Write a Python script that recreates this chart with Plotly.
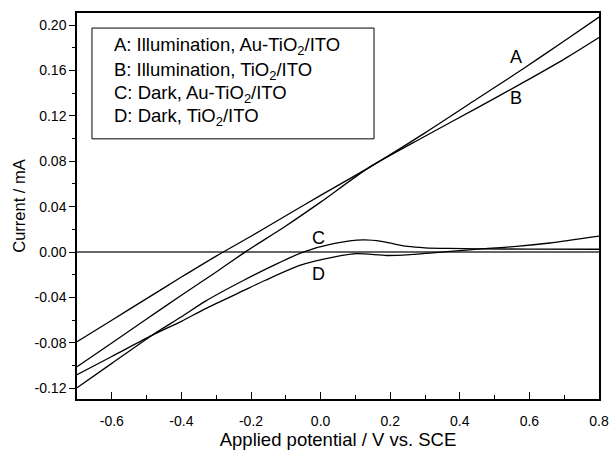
import plotly.graph_objects as go

# Curve A: Illumination, Au-TiO2/ITO
xa = [-0.70, -0.60, -0.50, -0.40, -0.30, -0.20, -0.10, 0.00, 0.14, 0.30, 0.45, 0.58, 0.70, 0.80]
ya = [-0.079, -0.060, -0.041, -0.022, -0.0035, 0.014, 0.032, 0.050, 0.0746, 0.105, 0.135, 0.161, 0.186, 0.207]
# Curve B: Illumination, TiO2/ITO
xb = [-0.70, -0.60, -0.50, -0.40, -0.30, -0.217, -0.10, 0.00, 0.14, 0.30, 0.45, 0.58, 0.70, 0.80]
yb = [-0.101, -0.080, -0.059, -0.038, -0.0175, 0.0, 0.023, 0.044, 0.0746, 0.102, 0.127, 0.149, 0.170, 0.189]
# Curve C: Dark, Au-TiO2/ITO
xc = [-0.70, -0.60, -0.485, -0.40, -0.332, -0.222, -0.12, -0.05, 0.037, 0.123, 0.175, 0.21, 0.25, 0.30, 0.37, 0.45, 0.60, 0.80]
yc = [-0.1195, -0.098, -0.0734, -0.057, -0.0434, -0.025, -0.0095, 0.0, 0.0074, 0.0108, 0.0095, 0.0072, 0.0050, 0.0038, 0.0032, 0.0029, 0.0026, 0.0025]
# Curve D: Dark, TiO2/ITO
xd = [-0.70, -0.60, -0.485, -0.40, -0.332, -0.222, -0.16, -0.06, 0.037, 0.104, 0.19, 0.257, 0.372, 0.467, 0.563, 0.659, 0.80]
yd = [-0.108, -0.092, -0.0734, -0.061, -0.050, -0.034, -0.025, -0.0117, -0.0044, -0.0014, -0.0030, -0.0022, 0.0006, 0.003, 0.005, 0.008, 0.014]

xtick_vals = [-0.6, -0.4, -0.2, 0.0, 0.2, 0.4, 0.6, 0.8]
xtick_text = ["-0.6", "-0.4", "-0.2", "0.0", "0.2", "0.4", "0.6", "0.8"]
ytick_vals = [-0.12, -0.08, -0.04, 0.00, 0.04, 0.08, 0.12, 0.16, 0.20]
ytick_text = ["-0.12", "-0.08", "-0.04", "0.00", "0.04", "0.08", "0.12", "0.16", "0.20"]

legend_lines = [
    "A: Illumination, Au-TiO<sub>2</sub>/ITO",
    "B: Illumination, TiO<sub>2</sub>/ITO",
    "C: Dark, Au-TiO<sub>2</sub>/ITO",
    "D: Dark, TiO<sub>2</sub>/ITO",
]
curve_labels = ["A", "B", "C", "D"]
label_x = [0.561, 0.561, -0.005, -0.005]
label_y = [0.1715, 0.136, 0.012, -0.0196]

FONT = "Liberation Sans, Arial, sans-serif"
fig = go.Figure()
for xs, ys in [(xa, ya), (xb, yb), (xc, yc), (xd, yd)]:
    fig.add_trace(go.Scatter(x=xs, y=ys, mode="lines",
                             line=dict(color="black", width=1.3, shape="spline", smoothing=0.7),
                             showlegend=False, hoverinfo="skip"))

for t, lx, ly in zip(curve_labels, label_x, label_y):
    fig.add_annotation(x=lx, y=ly, text=t, showarrow=False, xanchor="center", yanchor="middle",
                       font=dict(family=FONT, size=18, color="black"))

# legend box
fig.add_shape(type="rect", xref="paper", yref="paper", x0=0.0287, x1=0.569, y0=0.674, y1=0.961,
              line=dict(color="black", width=1), fillcolor="white", layer="above")
leg_y = [0.914, 0.850, 0.790, 0.731]
for t, yy in zip(legend_lines, leg_y):
    fig.add_annotation(xref="paper", yref="paper", x=0.068, y=yy, text=t, showarrow=False,
                       xanchor="left", yanchor="middle", font=dict(family=FONT, size=18.5, color="black"))

fig.update_layout(
    width=612, height=452,
    margin=dict(l=77, r=13, t=13, b=53, autoexpand=False),
    plot_bgcolor="white", paper_bgcolor="white",
    font=dict(family=FONT, size=14, color="black"),
    xaxis=dict(range=[-0.70, 0.80], tickvals=xtick_vals, ticktext=xtick_text, automargin=False,
               ticks="inside", ticklen=7, tickwidth=1.2, tickcolor="black",
               minor=dict(ticks="inside", ticklen=4, dtick=0.1, tick0=0.0, tickcolor="black", tickwidth=1.2),
               showline=True, linecolor="black", linewidth=1.5, mirror=True, showgrid=False, zeroline=False,
               ticklabelstandoff=8,
               title=dict(text="Applied potential / V vs. SCE", font=dict(family=FONT, size=18.5), standoff=6),
               tickfont=dict(family=FONT, size=14)),
    yaxis=dict(range=[-0.1294, 0.2106], tickvals=ytick_vals, ticktext=ytick_text, automargin=False,
               ticks="outside", ticklen=6, tickwidth=1.2, tickcolor="black",
               minor=dict(ticks="outside", ticklen=3, dtick=0.04, tick0=0.02, tickcolor="black", tickwidth=1.2),
               showline=True, linecolor="black", linewidth=1.5, mirror=True, showgrid=False,
               zeroline=True, zerolinecolor="#666666", zerolinewidth=1.5,
               title=dict(text="Current / mA", font=dict(family=FONT, size=16.5), standoff=5),
               tickfont=dict(family=FONT, size=14)),
)
fig.write_html("out.html")
